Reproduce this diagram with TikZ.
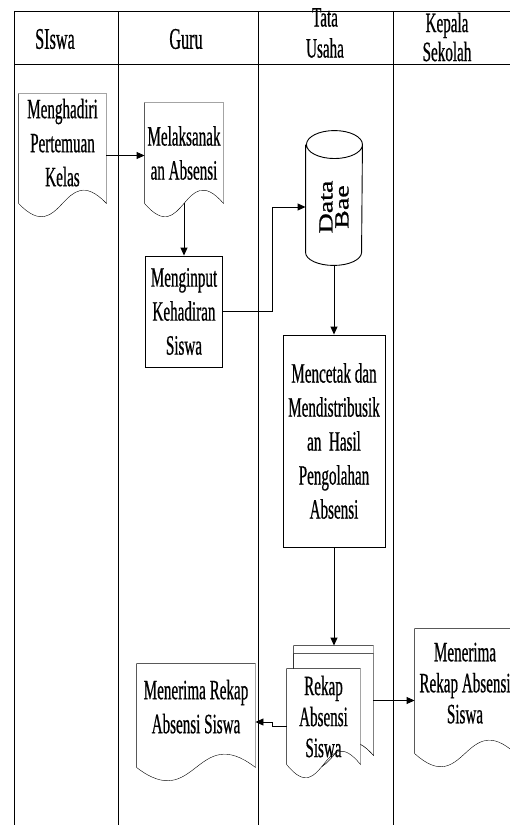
\documentclass[tikz,border=0pt]{standalone}
\usepackage{fontspec}
\setmainfont{Liberation Serif}[FakeStretch=0.54, FakeBold=0.6]
\newfontfamily\anchofont{Liberation Serif}[FakeStretch=1.4, FakeBold=1.2]
\usetikzlibrary{arrows.meta, calc, backgrounds}

\tikzset{
  hoja/.style={inner sep=0pt, align=center},
  caja/.style={draw, inner sep=0pt, align=center},
  flecha/.style={-{Triangle[length=8pt, width=7pt]}},
}

% Borde de documento (onda abajo)
\newcommand{\bordehoja}[1]{%
  \begin{scope}[on background layer]
    \draw[fill=white] (#1.south west) -- (#1.north west) -- (#1.north east) -- (#1.south east)
      .. controls ($(#1.south)+(0,-46)$) and ($(#1.south)+(0,46)$) .. (#1.south west) -- cycle;
  \end{scope}}

% Borde de base de datos (cilindro)
\newcommand{\bordecilindro}[1]{%
  \draw (#1.north west) -- (#1.south west)
    arc[start angle=180, end angle=360, x radius=28pt, y radius=13pt]
    -- (#1.north east) arc[start angle=0, end angle=180, x radius=28pt, y radius=14pt]
    arc[start angle=180, end angle=360, x radius=28pt, y radius=14pt];}

\begin{document}
\begin{tikzpicture}[x=1pt, y=-1pt, line width=0.9pt, font=\fontsize{28}{34}\selectfont]

    \useasboundingbox (0,0) rectangle (510,826);

    % Tabla
    \draw (14,11) -- (510,11);
    \draw (14,64) -- (510,64);
    \foreach \x in {14,118,258,393} \draw (\x,11) -- (\x,825);

    % Encabezados
    \node[font=\fontsize{30}{30}\selectfont] (hsiswa) at (55,39) {SIswa};
    \node[font=\fontsize{30}{30}\selectfont] (hguru) at (186,39) {Guru};
    \node[align=center, font=\fontsize{28}{31}\selectfont] (htu) at (325,33) {Tata\\Usaha};
    \node[align=center, font=\fontsize{28}{29}\selectfont] (hkepsek) at (447,37) {Kepala\\Sekolah};

    % Siswa
    \node[hoja, minimum width=87pt, minimum height=109pt, text depth=12pt] (hadir) at (62.5,148.5) {Menghadiri\\Pertemuan\\Kelas};
    \bordehoja{hadir}

    % Guru
    \node[hoja, minimum width=78pt, minimum height=100pt] (absen) at (184,153) {Melaksanak\\an Absensi};
    \bordehoja{absen}
    \node[caja, minimum width=77pt, minimum height=111pt] (input) at (184,311.5) {Menginput\\Kehadiran\\Siswa};
    \node[hoja, minimum width=118pt, minimum height=103pt, text depth=18pt] (terima) at (196,715.5) {Menerima Rekap\\Absensi Siswa};
    \bordehoja{terima}

    % Tata Usaha
    \node[hoja, minimum width=56pt, minimum height=107pt] (db) at (334,198.5) {};
    \bordecilindro{db}
    \node[rotate=90, align=center, font=\anchofont\fontsize{20}{16}\selectfont] (dbtexto) at (334,207) {Data\\Bae};
    \node[caja, minimum width=102pt, minimum height=212pt] (cetak) at (334,441) {Mencetak dan\\Mendistribusik\\an\ \ Hasil\\Pengolahan\\Absensi};

    % Rekap (tumpukan)
    \node[hoja, minimum width=79pt, minimum height=109pt] (rekapatras) at (333.5,700.5) {};
    \bordehoja{rekapatras}
    \node[hoja, minimum width=79pt, minimum height=101pt] (rekapmedio) at (333.5,704.5) {};
    \bordehoja{rekapmedio}
    \node[hoja, minimum width=73pt, minimum height=95pt, font=\fontsize{28}{31}\selectfont] (rekap) at (323.5,716.5) {Rekap\\Absensi\\Siswa};
    \bordehoja{rekap}

    % Kepala Sekolah
    \node[hoja, minimum width=100pt, minimum height=124pt, text depth=16pt, font=\fontsize{28}{31}\selectfont] (kepterima) at (465,691) {Menerima\\Rekap Absensi\\Siswa};
    \bordehoja{kepterima}

    % Flujo
    \draw[flecha] ([yshift=-7pt]hadir.east) -- ([yshift=-7pt]hadir.east -| absen.west);
    \draw[flecha] (absen.south) -- (absen.south |- input.north);
    \draw[flecha] (input.east) -- ++(49,0) |- ([yshift=-8.5pt]db.west);
    \draw[flecha] ([yshift=-13pt]db.south) -- (cetak.north);
    \draw[flecha] (cetak.south) -- (cetak.south |- rekapatras.north);
    \draw[flecha] ([yshift=-9.5pt]rekap.west) -- ++(-14,0) |- ([yshift=-6.5pt]terima.east);
    \draw[flecha] (rekapatras.east) -- (rekapatras.east -| kepterima.west);

\end{tikzpicture}
\end{document}
